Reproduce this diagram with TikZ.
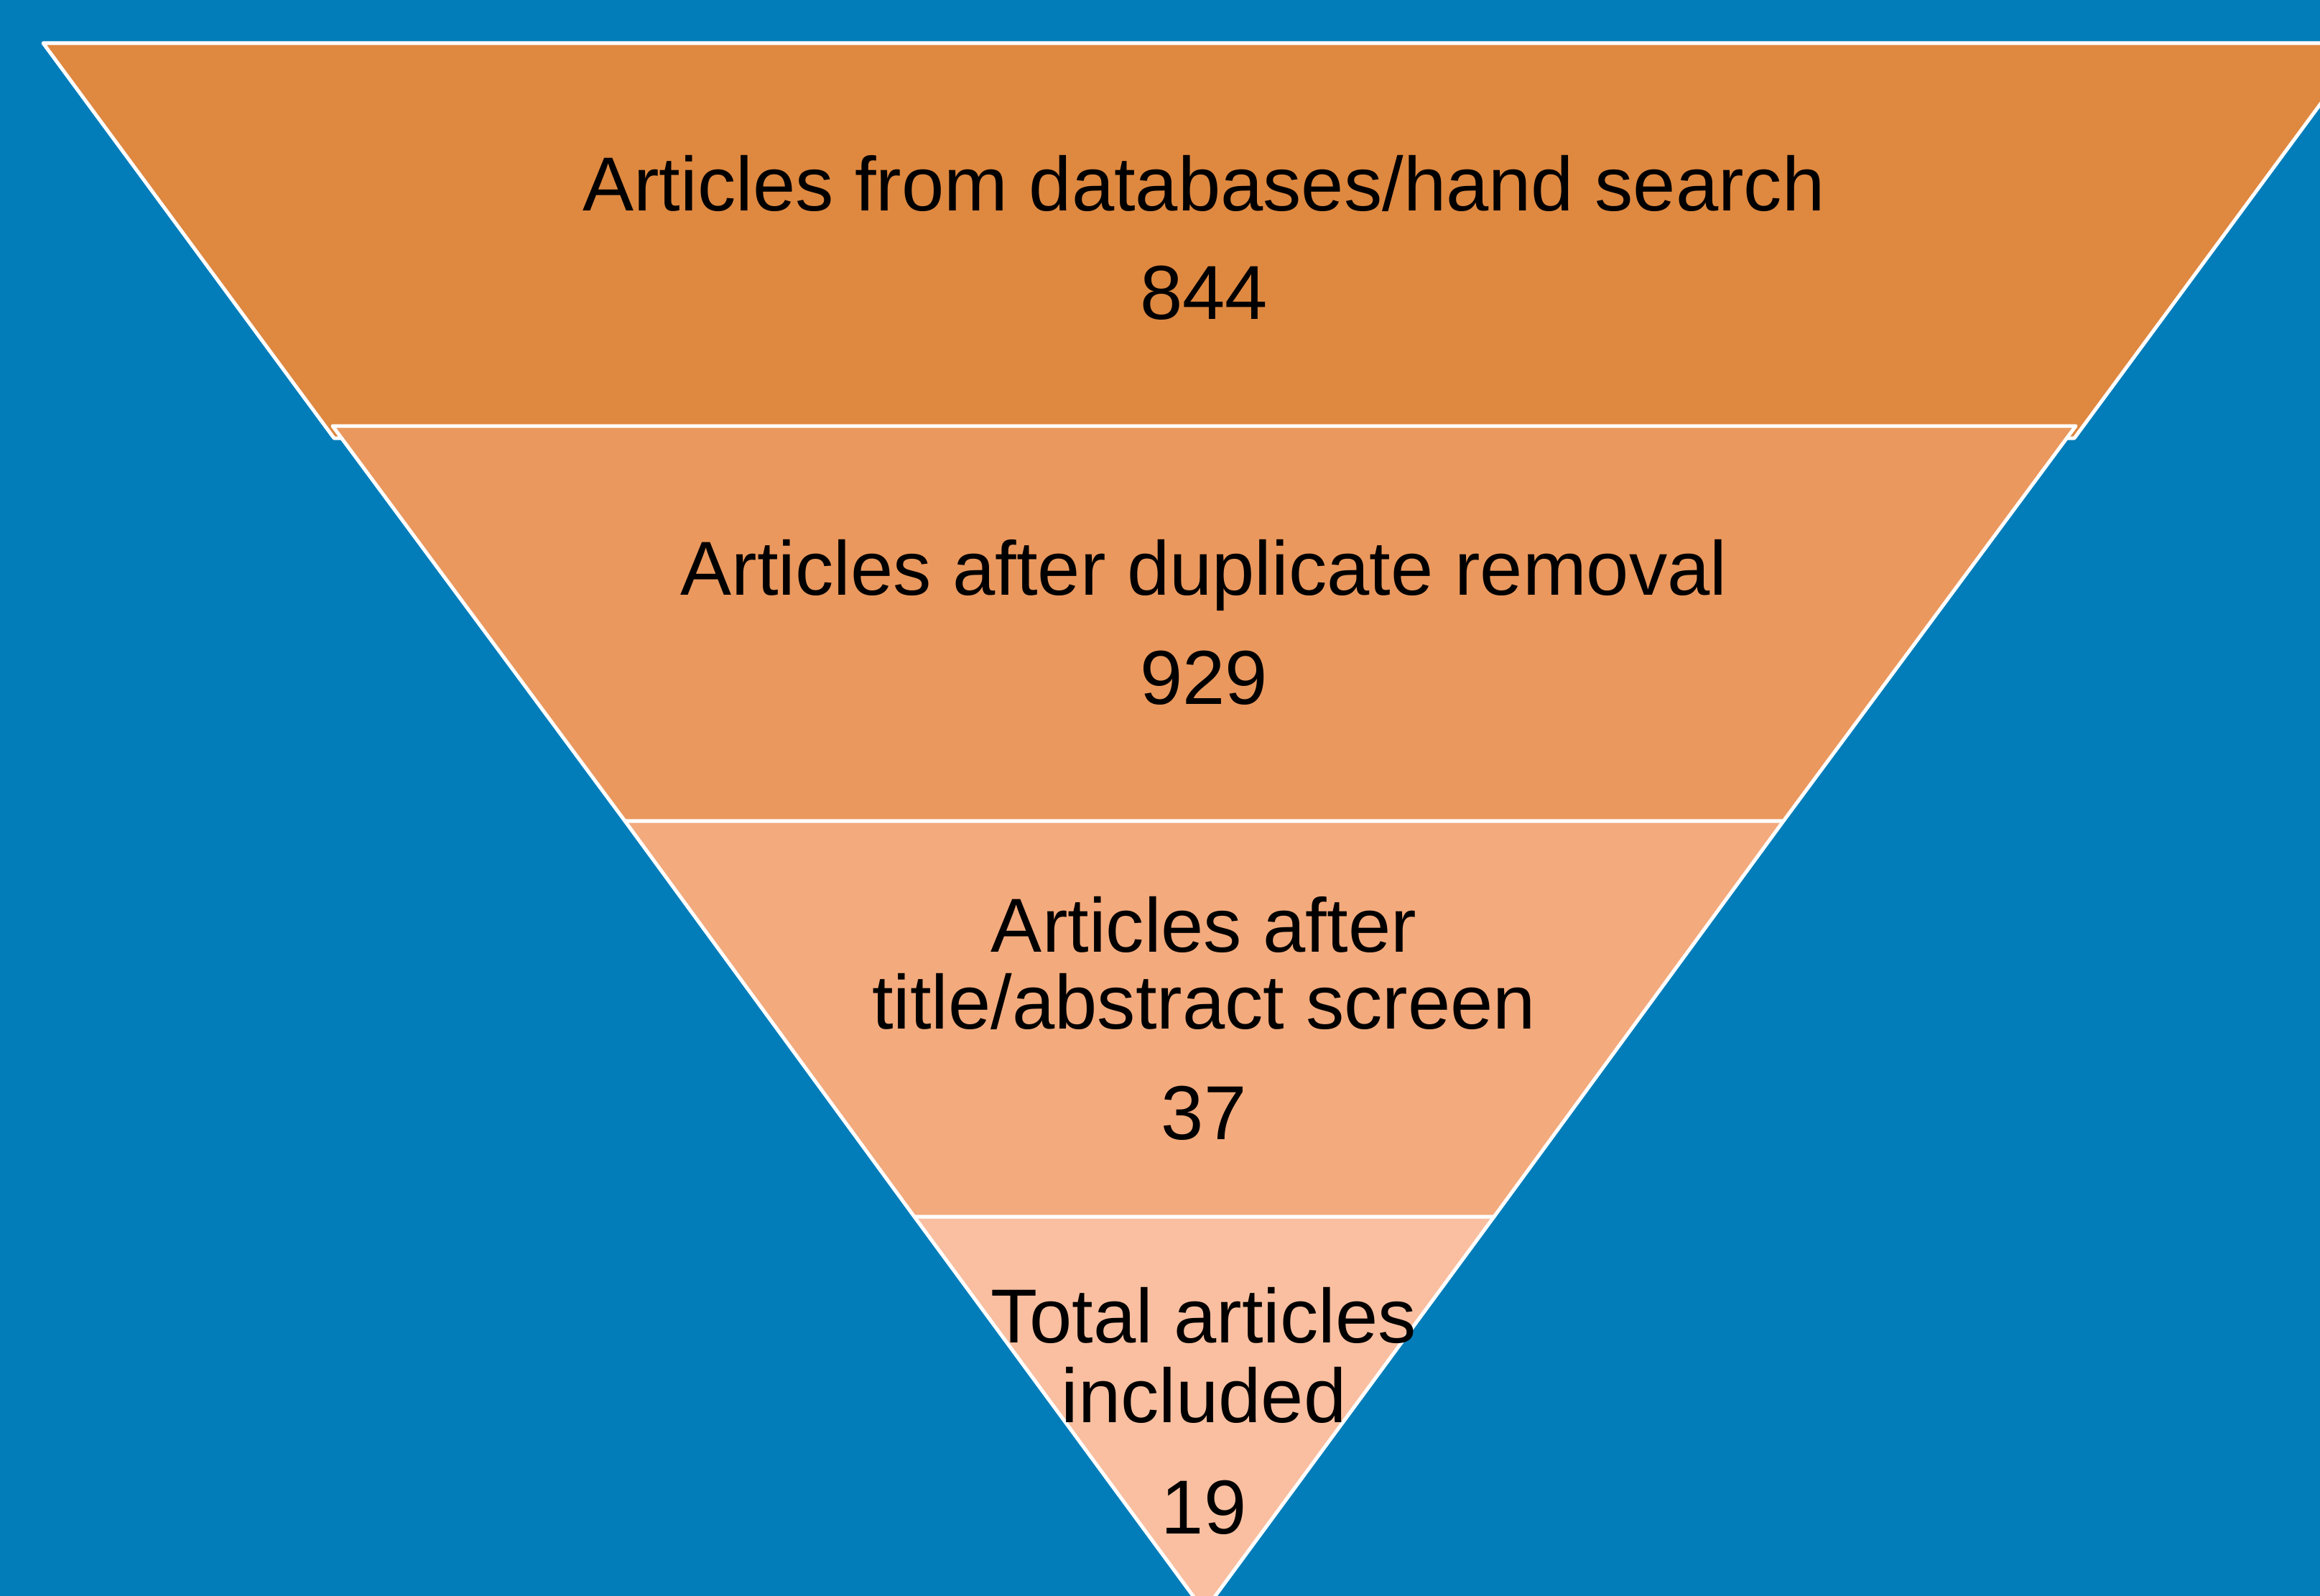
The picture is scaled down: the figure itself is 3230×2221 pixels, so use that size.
\documentclass[tikz,border=0pt]{standalone}
\usepackage{fontspec}
\setmainfont{Liberation Sans}
\definecolor{bgblue}{HTML}{027DBA}
\definecolor{bandA}{HTML}{DF8840}
\definecolor{bandB}{HTML}{EA985E}
\definecolor{bandC}{HTML}{F3AA7D}
\definecolor{bandD}{HTML}{F9BFA0}
\begin{document}
\begin{tikzpicture}[x=0.01cm,y=-0.01cm,
  band/.style={draw=white,line width=0.05cm,line join=round},
  lbl/.style={anchor=base,inner sep=0pt,font=\fontsize{30.3}{31}\selectfont,text=black}]
\useasboundingbox (0,0) rectangle (3230,2221);
\fill[bgblue] (-20,-20) rectangle (3250,2241);
\clip (-20,-20) rectangle (3250,2241);
% bands
\filldraw[band,fill=bandA] (60,60) -- (3293,60) -- (2888,610) -- (465,610) -- cycle;
\filldraw[band,fill=bandB] (463,593) -- (2890,593) -- (2483,1143) -- (870,1143) -- cycle;
\filldraw[band,fill=bandC] (870,1143) -- (2483,1143) -- (2080,1694) -- (1273,1694) -- cycle;
\filldraw[band,fill=bandD] (1273,1694) -- (2080,1694) -- (1676.5,2243) -- cycle;
% labels
\node[lbl] (t1) at (1676,293) {Articles from databases/hand search};
\node[lbl] (n1) at (1676,444) {844};
\node[lbl] (t2) at (1676,828) {Articles after duplicate removal};
\node[lbl] (n2) at (1676,980) {929};
\node[lbl] (t3a) at (1676,1325) {Articles after};
\node[lbl] (t3b) at (1676,1432) {title/abstract screen};
\node[lbl] (n3) at (1676,1586) {37};
\node[lbl] (t4a) at (1676,1869) {Total articles};
\node[lbl] (t4b) at (1676,1980) {included};
\node[lbl] (n4) at (1676,2135) {19};
\end{tikzpicture}
\end{document}
